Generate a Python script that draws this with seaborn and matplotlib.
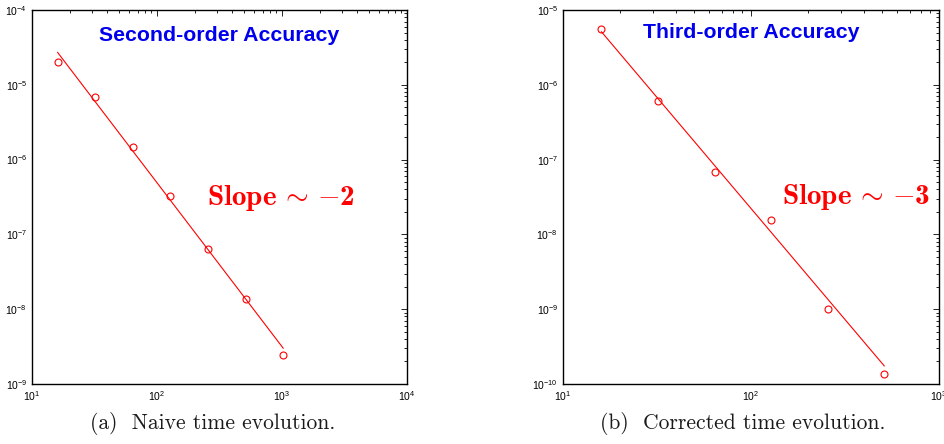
import numpy as np
import matplotlib
matplotlib.use("Agg")
import matplotlib.pyplot as plt
import seaborn as sns
from matplotlib.ticker import LogLocator, NullFormatter

# ---- data ----
n_a = [16, 32, 64, 128, 256, 512, 1024]
err_a = [2.02e-5, 6.87e-6, 1.49e-6, 3.29e-7, 6.44e-8, 1.355e-8, 2.44e-9]
fit_a_x = [16, 1024]
fit_a_y = [2.72e-5, 3.0e-9]

n_b = [16, 32, 64, 128, 256, 512]
err_b = [5.52e-6, 6.07e-7, 6.89e-8, 1.56e-8, 1.02e-9, 1.35e-10]
fit_b_x = [16, 512]
fit_b_y = [5.13e-6, 1.74e-10]

titles = ["Second-order Accuracy", "Third-order Accuracy"]
slopes = [r"$\mathbf{Slope}\,\sim\,{-}\mathbf{2}$", r"$\mathbf{Slope}\,\sim\,{-}\mathbf{3}$"]
captions = ["(a)  Naive time evolution.", "(b)  Corrected time evolution."]

sns.set_style("white")
plt.rcParams["font.family"] = ["Liberation Sans", "DejaVu Sans"]
plt.rcParams["mathtext.bf"] = "cmb10"
plt.rcParams["mathtext.rm"] = "cmr10"
plt.rcParams["mathtext.it"] = "cmmi10"
plt.rcParams["mathtext.fallback"] = "cm"

fig = plt.figure(figsize=(9.44, 4.44), dpi=100)
W, H = 944, 444
axes_px = [(32, 10, 407, 384), (563, 10, 939, 384)]
axs = []
for (l, t, r, b) in axes_px:
    axs.append(fig.add_axes([l / W, 1 - b / H, (r - l) / W, (b - t) / H]))

datasets = [(n_a, err_a, fit_a_x, fit_a_y, (10, 1e4), (1e-9, 1e-4)),
            (n_b, err_b, fit_b_x, fit_b_y, (10, 1e3), (1e-10, 1e-5))]
title_pos = [(0.5, 0.933), (0.5, 0.939)]
slope_pos = [(0.467, 0.497), (0.582, 0.50)]

for i, ax in enumerate(axs):
    nx, ey, fx, fy, xl, yl = datasets[i]
    sns.lineplot(x=fx, y=fy, ax=ax, color="red", linewidth=0.8)
    ax.plot(nx, ey, linestyle="none", marker="o", markersize=5,
            markerfacecolor="none", markeredgecolor="red", markeredgewidth=0.8)
    ax.set_xscale("log")
    ax.set_yscale("log")
    ax.set_xlim(*xl)
    ax.set_ylim(*yl)
    ax.xaxis.set_major_locator(LogLocator(base=10, numticks=20))
    ax.yaxis.set_major_locator(LogLocator(base=10, numticks=20))
    ax.xaxis.set_minor_locator(LogLocator(base=10, subs=np.arange(2, 10), numticks=20))
    ax.yaxis.set_minor_locator(LogLocator(base=10, subs=np.arange(2, 10), numticks=20))
    ax.xaxis.set_minor_formatter(NullFormatter())
    ax.yaxis.set_minor_formatter(NullFormatter())
    ax.tick_params(which="both", direction="in", top=True, right=True,
                   labelsize=7.5, width=0.6, colors="black")
    ax.tick_params(which="major", length=4)
    ax.tick_params(which="minor", length=2)
    for s in ax.spines.values():
        s.set_color("black")
        s.set_linewidth(1.0)
    ax.set_xlabel("")
    ax.set_ylabel("")
    ax.text(title_pos[i][0], title_pos[i][1], titles[i], transform=ax.transAxes,
            ha="center", va="center", color="#0000ee", fontsize=15.3, fontweight="bold")
    ax.text(slope_pos[i][0], slope_pos[i][1], slopes[i], transform=ax.transAxes,
            ha="left", va="center", color="red", fontsize=21, math_fontfamily="custom")

cap_x = [213 / W, 743 / W]
for i in range(2):
    fig.text(cap_x[i], 1 - 423 / H, captions[i], ha="center", va="center",
             fontsize=15.5, family="cmr10", color="#1a1a1a")

fig.savefig("out.png", dpi=100)
